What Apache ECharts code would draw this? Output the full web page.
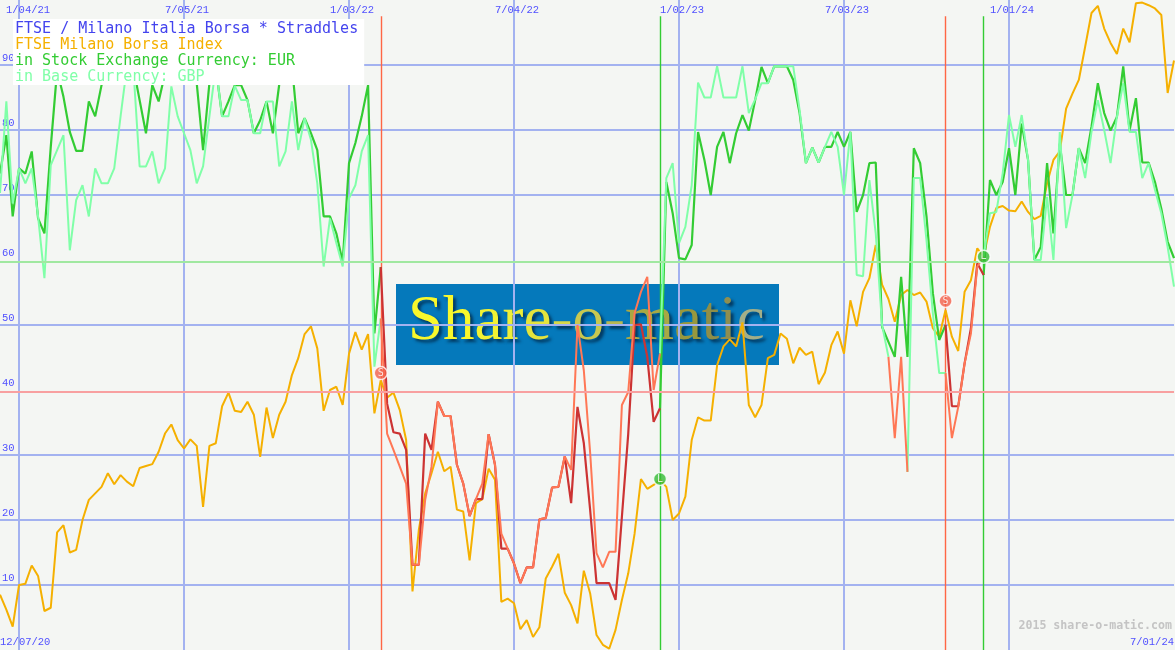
<!DOCTYPE html>
<html><head><meta charset="utf-8">
<style>html,body{margin:0;padding:0;background:#f4f6f3}#c{width:1175px;height:650px}</style>
<script src="https://cdn.jsdelivr.net/npm/echarts@6/dist/echarts.min.js"></script>
</head><body><div id="c"></div>
<script>
const indexValues = [8.5,6.2,3.6,10,10.2,13,11.4,6,6.5,18.1,19.2,15,15.4,20,23.1,24.1,25.1,27.2,25.5,26.9,
25.9,25.2,28,28.3,28.6,30.5,33.3,34.7,32.3,31,32.4,31.4,22,31.4,31.8,37.5,39.6,36.8,36.6,38.2,
36.2,29.7,37.3,32.6,36.2,38.2,42.3,44.9,48.6,49.8,46.4,36.8,40,40.5,37.7,45.6,48.9,46.2,48.6,36.4,
41.5,38.8,39.6,36.9,32.3,9,18.5,24.1,27.2,30.5,27.5,28.2,21.6,21.3,13.8,22.6,23.2,27.9,26.2,7.4,
7.9,7.2,3.2,4.6,2,3.5,11,12.8,14.8,8.8,6.9,4.1,12.2,8.7,2.3,0.8,0.2,3.1,7.7,11.8,
17.9,26.3,24.8,25.4,26.2,25.1,20,21,23.6,32.3,35.8,35.3,35.3,43.8,46.7,47.8,46.7,50.4,37.7,35.8,
37.7,44.9,45.4,48.7,47.9,44.1,46.5,45.4,45.9,40.9,42.7,46.9,49,45.6,53.8,49.8,55.1,57.2,62.3,56.2,
54,50.5,54.6,55.4,54.6,55,53.6,49.5,48.2,52.3,48.2,46,55.1,56.9,61.8,60.5,65.1,68,68.3,67.6,
67.5,69,67.4,66.3,66.8,71.8,75.4,76.7,83.3,85.6,87.7,92.8,98,99.1,95.6,93.4,91.7,95.6,93.5,99.5,
99.6,99.2,98.7,97.7,85.7,90.7];
const eurValues = [73.3,79.2,66.7,74.1,73.3,76.7,66.4,64.1,77.4,89.2,85.1,79.7,76.8,76.8,84.4,82.1,86.9,89,91,92,
91,89.7,84.6,79.5,86.9,84.4,88.7,92,91,90,90,87.2,76.9,87.2,89.7,82.1,84.4,86.9,86.9,84.6,
79.5,81.5,84.4,79.5,87,92,90,79.5,81.8,79.5,76.9,66.7,66.7,64.1,59.7,74.9,78,82.1,86.9,48.7,
58.9,37.9,33.5,33.3,30.8,13.1,13.1,33.3,30.8,38.2,36,36,28.5,25.6,20.6,23.2,23.2,33.2,28.5,15.6,
15.6,13.3,10.3,12.7,12.7,20.1,20.3,25,25.1,29.8,22.6,37.4,31.8,21.5,10.3,10.3,10.3,7.7,20.5,33.3,
50,50.1,45.1,35.1,37.2,72,67.2,60.3,60.1,62.3,79.7,75.4,70,77.4,79.7,74.9,79.5,82.3,79.9,84.6,
89.7,87.2,89.8,89.8,89.8,87.7,82.6,74.9,77.3,75,77.4,77.4,79.7,77.4,79.7,67.4,70,74.9,75,49.7,
47.4,45.1,57.4,45.1,77.2,74.9,66.7,54.9,47.7,50,37.5,37.5,44.1,49.5,59.5,57.7,72.3,70,72,77.2,
70,81,75.4,60,62,74.9,64.1,77.9,70,70,77.2,74.9,80.5,87.2,82.6,79.9,82,89.8,79.9,84.9,
75,75,72,67.9,62.8,60.3];
const gbpValues = [70.3,84.4,68.7,74.1,71.8,74.1,66.7,57.2,74.6,76.9,79.2,61.5,69.2,71.5,66.7,74.1,71.8,71.8,74.1,82.1,
89.7,89.7,74.4,74.4,76.7,71.8,74.1,86.7,82.1,79.5,76.9,71.8,74.4,82.1,89.7,82.1,82.1,86.8,84.6,84.6,
79.5,79.5,84.4,84.4,74.4,76.7,84.4,76.9,81.8,78.5,71.8,59,66.4,62.6,59,69.5,71.5,76.7,79.2,43.6,
51,33.3,30.8,28.2,25.6,13.1,13.1,23.1,28.2,38.2,36,36,28.5,25.6,20.6,23.2,25.6,33.2,28.5,17.9,
15.6,13.3,10.3,12.7,12.7,20.1,20.3,25,25.1,29.8,27.7,50,43,30.3,14.9,12.7,15.1,15.1,37.7,39.7,
51.8,55.1,57.4,40,45.6,72.6,74.9,62.6,65.1,71.5,87.3,85,85,89.8,85,85,85,89.8,82.6,84.7,
87.2,87.2,89.8,89.8,89.8,89.8,83.1,74.9,77.3,75,77.4,79.7,77.4,70,79.7,57.7,57.5,72.3,64.1,50,
45.1,32.6,45.1,27.4,72.6,72.6,63,51.8,42.6,42.6,32.6,37.4,44.1,48.7,59,60.5,67.2,67.4,73.3,82.3,
77.4,82.3,75.4,60,60,69.7,60,79.7,64.9,70,77.2,72.6,79.7,84.6,80,74.9,82,87.2,79.7,79.7,
72.6,74.9,70.8,67.2,62,55.9];

const eurRedRanges = [[60,104],[149,155]];
const gbpRedRanges = [[60,104],[140,143],[149,155]];
const signalIndex = [60,104,149,155];
const signalValue = [42.6,26.3,53.7,60.5];
const signalKind = ['S','L','S','L'];
const levelValues = [59.7,39.7];
const gridTicks = [3,29,55,81,107,133,159];
const legendLines = ['FTSE / Milano Italia Borsa * Straddles','FTSE Milano Borsa Index','in Stock Exchange Currency: EUR','in Base Currency: GBP'];
const logoLetters = ['S','h','a','r','e','-','o','-','m','a','t','i','c'];
const logoColors = ['#f8f82c','#f8f82c','#f2f232','#eeee38','#e4e43c','#d8d848','#c8c850','#b8b850','#a8a844','#98983e','#8e8e48','#8e8e50','#a2ae88'];

// category labels: weekly dates (the week of 12/28/20 is absent)
const categories = [];
(function(){
  const fmt = t => { const d = new Date(t); return (d.getUTCMonth()+1)+'/'+String(d.getUTCDate()).padStart(2,'0')+'/'+String(d.getUTCFullYear()).slice(2); };
  const wk = 7*864e5;
  categories.push(fmt(Date.UTC(2020,11,7)),fmt(Date.UTC(2020,11,14)),fmt(Date.UTC(2020,11,21)));
  for(let i=0;i<183;i++) categories.push(fmt(Date.UTC(2021,0,4)+i*wk));
})();

function inRanges(i,r){return r.some(p=>i>=p[0]&&i<=p[1]);}
function redPart(v,r){return v.map((y,i)=>inRanges(i,r)?y:null);}
function greenPart(v,r){return v.map((y,i)=>r.some(p=>i>p[0]&&i<p[1])?null:y);}

const BLUE='#5050ff', GRID='#a3b2f0', MONO='"DejaVu Sans Mono","Liberation Mono",monospace', TICKF='"Liberation Mono",monospace';
const C_ORANGE='#f5b000', C_DG='#33cc33', C_LG='#80ffa8', C_DR='#cc3333', C_LR='#ff7755', C_S='#f2604a', C_L='#33bb33';
const line=(name,data,color,w)=>({name,type:'line',data,showSymbol:false,symbol:'none',connectNulls:false,
  lineStyle:{color,width:w},itemStyle:{color},animation:false,silent:true});
const sigColor=k=>k==='S'?C_S:C_L;

const logoRich={};
logoLetters.forEach((ch,i)=>{logoRich['l'+i]={fill:logoColors[i],font:'63px "Liberation Serif",serif',textShadowColor:'rgba(0,25,50,0.65)',textShadowBlur:3,textShadowOffsetX:3,textShadowOffsetY:3};});
const logoText=logoLetters.map((ch,i)=>'{l'+i+'|'+ch+'}').join('');

const chart=echarts.init(document.getElementById('c'),null,{renderer:'canvas'});
chart.setOption({
  backgroundColor:'#f4f6f3',
  animation:false,
  title:{
    left:13,top:19,padding:[2,6,0,2],backgroundColor:'#ffffff',z:20,
    text:'{a|'+legendLines[0]+'}\n{b|'+legendLines[1]+'}\n{c|'+legendLines[2]+'}\n{d|'+legendLines[3]+'}',
    textStyle:{fontFamily:MONO,fontSize:15,fontWeight:'normal',lineHeight:16,
      rich:{
        a:{color:'#4444ee',fontFamily:MONO,fontSize:15,lineHeight:16,width:342},
        b:{color:C_ORANGE,fontFamily:MONO,fontSize:15,lineHeight:16,width:342},
        c:{color:C_DG,fontFamily:MONO,fontSize:15,lineHeight:16,width:342},
        d:{color:C_LG,fontFamily:MONO,fontSize:15,lineHeight:16,width:342}
      }}
  },
  grid:{left:0,right:1,top:0,bottom:0,containLabel:false,outerBoundsMode:'none'},
  xAxis:[{
    type:'category',position:'top',boundaryGap:false,data:categories,
    axisLine:{show:false},axisTick:{show:false},
    splitLine:{show:true,interval:i=>gridTicks.includes(i),lineStyle:{color:GRID,width:2}},
    axisLabel:{inside:true,margin:5,interval:i=>gridTicks.includes(i),color:BLUE,fontFamily:TICKF,fontSize:10.5,
      hideOverlap:false,
      formatter:(v,i)=>i===gridTicks[0]?'{f|'+v+'}':'{n|'+v+'}',
      rich:{f:{padding:[0,0,0,18],color:BLUE,fontFamily:TICKF,fontSize:10.5},n:{padding:[0,0,0,6],color:BLUE,fontFamily:TICKF,fontSize:10.5}}}
  },{
    type:'category',position:'bottom',boundaryGap:false,data:categories,
    axisLine:{show:false},axisTick:{show:false},splitLine:{show:false},
    axisLabel:{inside:true,margin:2,interval:i=>i===0||i===categories.length-1,color:BLUE,fontFamily:TICKF,fontSize:10.5,
      showMinLabel:true,showMaxLabel:true,alignMinLabel:'left',alignMaxLabel:'right'}
  }],
  yAxis:{
    type:'value',min:0,max:100,interval:10,
    axisLine:{show:false},axisTick:{show:false},
    splitLine:{show:true,showMinLine:false,showMaxLine:false,lineStyle:{width:2,
      color:[GRID,GRID,GRID,'transparent',GRID,'transparent',GRID,GRID,GRID,GRID,GRID]}},
    axisLabel:{inside:true,margin:2,color:BLUE,fontFamily:TICKF,fontSize:10.5,verticalAlign:'bottom',padding:[0,0,1,0],
      showMinLabel:false,showMaxLabel:false}
  },
  graphic:{elements:[
    {type:'rect',z:-5,silent:true,shape:{x:396,y:284,width:383,height:81},style:{fill:'#0579bb'}},
    {type:'text',z:-4,silent:true,x:408,y:322,style:{text:logoText,rich:logoRich,verticalAlign:'middle'}},
    {type:'text',z:10,silent:true,right:3,top:620,style:{text:'2015 share-o-matic.com',font:'bold 11.6px "DejaVu Sans Mono",monospace',fill:'#c4c4c4'}}
  ]},
  series:[
    Object.assign(line('levels',[],'#000',1),{z:1,
      markLine:{silent:true,symbol:'none',animation:false,label:{show:false},
        data:[{yAxis:levelValues[0],lineStyle:{color:'#a0e8a0',width:2,type:'solid'}},
              {yAxis:levelValues[1],lineStyle:{color:'#f8a0a0',width:2,type:'solid'}}]}}),
    line('FTSE Milano Borsa Index',indexValues,C_ORANGE,2),
    line('EUR',greenPart(eurValues,eurRedRanges),C_DG,2.2),
    line('EUR short',redPart(eurValues,eurRedRanges),C_DR,2.2),
    line('GBP',greenPart(gbpValues,gbpRedRanges),C_LG,2),
    line('GBP short',redPart(gbpValues,gbpRedRanges),C_LR,2),
    {name:'signals',type:'scatter',z:6,animation:false,silent:true,symbol:'circle',symbolSize:13,
      data:signalIndex.map((x,i)=>({value:[x,signalValue[i]],
        itemStyle:{color:sigColor(signalKind[i]),borderColor:'#ffffff',borderWidth:1.5},
        label:{show:true,position:'inside',formatter:signalKind[i],color:'#ffffff',fontSize:10,fontFamily:MONO}})),
      markLine:{silent:true,symbol:'none',animation:false,label:{show:false},z:3,
        data:signalIndex.map((x,i)=>{const ls={color:signalKind[i]==='S'?'#ff6644':C_DG,width:1.4,type:'solid'};
          return [{coord:[x,97.5],lineStyle:ls},{coord:[x,0],lineStyle:ls}];})}}
  ]
});
</script></body></html>
